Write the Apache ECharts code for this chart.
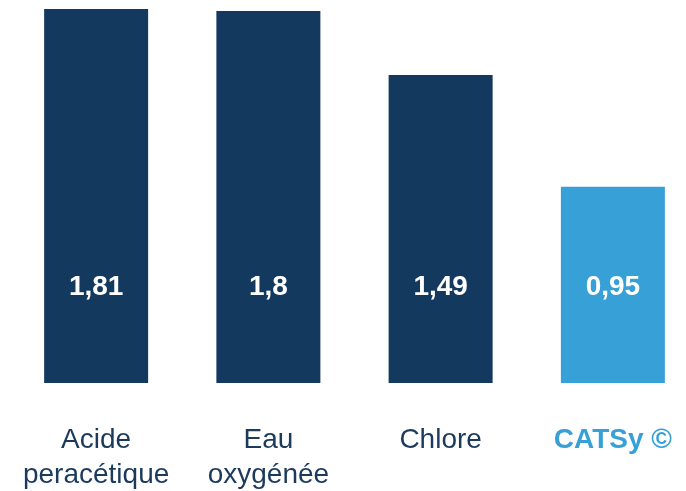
<!DOCTYPE html>
<html>
<head>
<meta charset="utf-8">
<script src="https://cdn.jsdelivr.net/npm/echarts@6/dist/echarts.min.js"></script>
<style>
  html, body { margin: 0; padding: 0; background: #fff; overflow: hidden; }
  #main { width: 700px; height: 491px; }
</style>
</head>
<body>
<div id="main"></div>
<script>
// données
var categories = ['Acide\nperacétique', 'Eau\noxygénée', 'Chlore', 'CATSy ©'];
var values = [1.81, 1.8, 1.49, 0.95];
var valueLabels = ['1,81', '1,8', '1,49', '0,95'];

var navy = '#133a5e',
    blue = '#37a1d7';

var myChart = echarts.init(document.getElementById('main'));

myChart.setOption({
    animation: false,
    grid: {
        left: 10,
        right: 1,
        top: 9,
        bottom: 108,
        outerBoundsMode: 'none'
    },
    xAxis: {
        type: 'category',
        data: categories,
        axisLine: { show: false },
        axisTick: { show: false },
        axisLabel: {
            margin: 40,
            interval: 0,
            fontFamily: 'Liberation Sans',
            fontSize: 28,
            lineHeight: 35,
            color: '#1b3a5c',
            formatter: function (value, idx) {
                if (idx === 3) {
                    return '{hl|' + value + '}';
                }
                return value;
            },
            rich: {
                hl: {
                    color: blue,
                    fontWeight: 'bold',
                    fontFamily: 'Liberation Sans',
                    fontSize: 28,
                    lineHeight: 35
                }
            }
        }
    },
    yAxis: {
        type: 'value',
        min: 0,
        max: 1.81,
        show: false,
        splitLine: { show: false }
    },
    series: [
        {
            type: 'bar',
            barWidth: 104,
            data: values.map(function (v, i) {
                return {
                    value: v,
                    itemStyle: { color: i === 3 ? blue : navy }
                };
            }),
            label: {
                show: true,
                position: 'insideBottom',
                distance: 82,
                color: '#fff',
                fontWeight: 'bold',
                fontFamily: 'Liberation Sans',
                fontSize: 28,
                formatter: function (p) {
                    return valueLabels[p.dataIndex];
                }
            }
        }
    ]
});
</script>
</body>
</html>
